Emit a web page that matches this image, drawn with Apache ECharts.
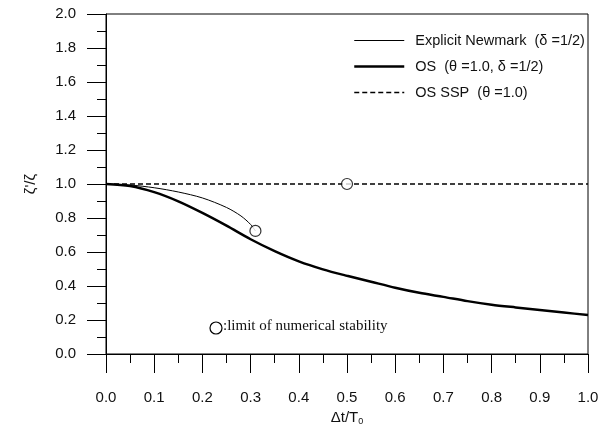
<!DOCTYPE html>
<html>
<head>
<meta charset="utf-8">
<script src="https://cdn.jsdelivr.net/npm/echarts@6/dist/echarts.min.js"></script>
<style>
    html, body { margin: 0; padding: 0; background: #fff; }
    #chart { width: 599px; height: 426px; }
</style>
</head>
<body>
<div id="chart"></div>
<script>
    // data
    var osX = [0, 0.05, 0.1, 0.15, 0.2, 0.25, 0.3, 0.35, 0.4, 0.45, 0.5, 0.55, 0.6, 0.65, 0.7, 0.75, 0.8, 0.85, 0.9, 0.95, 1.0];
    var osY = [1.0, 0.988, 0.952, 0.898, 0.83, 0.755, 0.675, 0.605, 0.545, 0.498, 0.46, 0.425, 0.39, 0.36, 0.336, 0.311, 0.29, 0.274, 0.259, 0.244, 0.229];
    var newmarkX = [0, 0.05, 0.1, 0.15, 0.2, 0.25, 0.28, 0.3, 0.31];
    var newmarkY = [1.0, 0.994, 0.978, 0.953, 0.918, 0.862, 0.812, 0.762, 0.724];
    var sspX = [0, 1.0];
    var sspY = [1.0, 1.0];
    var limitPoints = [[0.31, 0.724], [0.5, 1.0]];
    var seriesNames = ['Explicit Newmark  (\u03b4 =1/2)', 'OS  (\u03b8 =1.0, \u03b4 =1/2)', 'OS SSP  (\u03b8 =1.0)'];

    function pairs(xs, ys) {
        var out = [];
        for (var i = 0; i < xs.length; i++) {
            out.push([xs[i], ys[i]]);
        }
        return out;
    }

    var chart = echarts.init(document.getElementById('chart'));
    var font = '"Liberation Sans", Arial, sans-serif';

    var option = {
        animation: false,
        textStyle: { fontFamily: font, color: '#111' },
        grid: {
            left: 106, right: 11, top: 14, bottom: 72,
            outerBoundsMode: 'none',
            show: true, borderColor: '#000', borderWidth: 1
        },
        legend: {
            orient: 'vertical',
            left: 348, top: 28,
            itemWidth: 50, itemHeight: 16, itemGap: 11,
            itemStyle: { opacity: 0 },
            textStyle: { fontFamily: font, fontSize: 14.5, color: '#111', padding: [0, 0, 0, 6] },
            data: [
                { name: seriesNames[0], lineStyle: { width: 1 } },
                { name: seriesNames[1], lineStyle: { width: 2.5 } },
                { name: seriesNames[2], lineStyle: { width: 1.4 } }
            ]
        },
        xAxis: {
            type: 'value',
            min: 0, max: 1.0, interval: 0.1,
            name: '{a|\u0394t/T}{s|0}',
            nameLocation: 'middle',
            nameGap: 50,
            nameTextStyle: {
                rich: {
                    a: { fontFamily: font, fontSize: 15, color: '#111' },
                    s: { fontFamily: font, fontSize: 9, color: '#111', verticalAlign: 'bottom', padding: [8, 0, 0, 0] }
                }
            },
            axisLine: { lineStyle: { color: '#000', width: 1 } },
            axisTick: { length: 19, lineStyle: { color: '#000' } },
            minorTick: { show: true, splitNumber: 2, length: 9, lineStyle: { color: '#000' } },
            splitLine: { show: false },
            axisLabel: {
                margin: 36, fontSize: 15, color: '#111', fontFamily: font,
                formatter: function (v) { return v.toFixed(1); }
            }
        },
        yAxis: {
            type: 'value',
            min: 0, max: 2.0, interval: 0.2,
            name: "\u03b6'/\u03b6",
            nameLocation: 'middle',
            nameRotate: 90,
            nameGap: 68,
            nameTextStyle: { fontFamily: font, fontSize: 15, color: '#111' },
            axisLine: { lineStyle: { color: '#000', width: 1 } },
            axisTick: { length: 19, lineStyle: { color: '#000' } },
            minorTick: { show: true, splitNumber: 2, length: 9, lineStyle: { color: '#000' } },
            splitLine: { show: false },
            axisLabel: {
                margin: 30, fontSize: 15, color: '#111', fontFamily: font,
                formatter: function (v) { return v.toFixed(1); }
            }
        },
        series: [
            {
                name: seriesNames[0],
                type: 'line',
                data: pairs(newmarkX, newmarkY),
                smooth: 0.3,
                symbol: 'none',
                lineStyle: { color: '#000', width: 1 },
                itemStyle: { color: '#000' }
            },
            {
                name: seriesNames[1],
                type: 'line',
                data: pairs(osX, osY),
                smooth: 0.3,
                symbol: 'none',
                lineStyle: { color: '#000', width: 2.5 },
                itemStyle: { color: '#000' }
            },
            {
                name: seriesNames[2],
                type: 'line',
                data: pairs(sspX, sspY),
                symbol: 'none',
                lineStyle: { color: '#000', width: 1.4, type: [5, 3] },
                itemStyle: { color: '#000' }
            },
            {
                name: 'limit',
                type: 'scatter',
                data: limitPoints,
                symbol: 'circle',
                symbolSize: 11,
                itemStyle: { color: '#fff', borderColor: '#000', borderWidth: 1.2 },
                z: 5
            }
        ],
        graphic: [
            {
                type: 'circle',
                shape: { cx: 216, cy: 328, r: 6 },
                style: { fill: '#fff', stroke: '#000', lineWidth: 1.2 }
            },
            {
                type: 'text',
                left: 223, top: 319,
                style: {
                    text: ':limit of numerical stability',
                    font: '15px "Liberation Serif", "Times New Roman", serif',
                    fill: '#111'
                }
            }
        ]
    };

    chart.setOption(option);
</script>
</body>
</html>
